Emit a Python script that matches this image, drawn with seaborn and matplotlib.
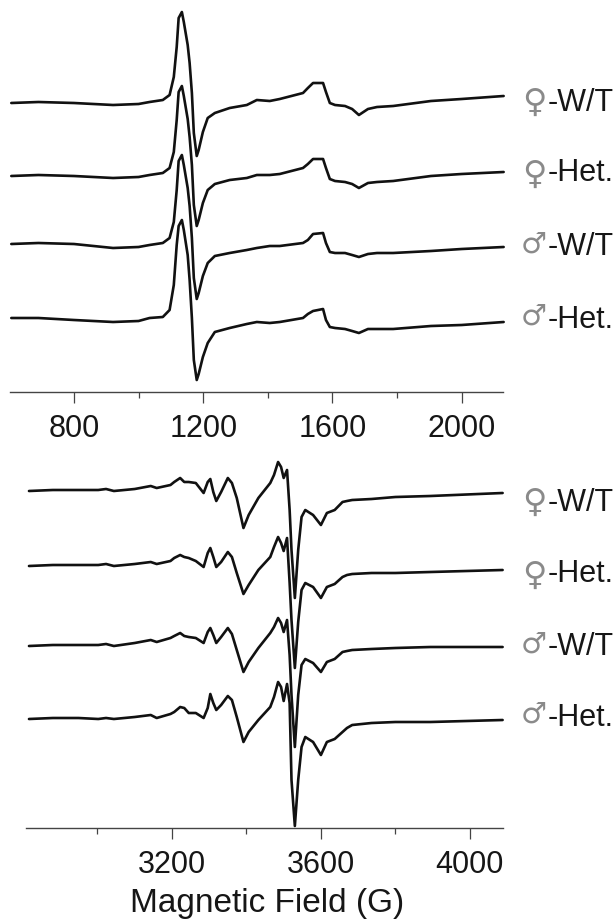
import matplotlib
matplotlib.use("Agg")
import matplotlib.pyplot as plt
from matplotlib.ticker import MultipleLocator
import pandas as pd
import seaborn as sns

field_top = [606,690,800,921,1000,1034,1075,1096,1109,1118,1124,1134,1140,1152,1158,1165,1171,1180,1186,1199,1214,1236,1282,1335,1366,1406,1437,1509,1524,1540,1571,1580,1592,1608,1639,1661,1682,1710,1738,1788,1905,2000,2130]
top_f_wt = [289,290,289,287,288,290,292,297,315,345,374,380,370,347,329,299,259,236,242,260,274,279,284,287,292,291,293,299,304,309,309,300,289,287,286,283,277,283,285,286,291,293,296]
top_f_het = [216,217,216,214,215,217,219,224,240,272,300,306,296,273,255,227,187,166,172,189,202,208,212,214,217,217,218,224,228,233,233,224,213,211,210,208,204,209,210,211,216,218,220]
top_m_wt = [148,149,148,144,145,147,149,154,170,202,231,237,227,204,186,154,114,93,99,116,129,136,139,142,144,146,146,149,152,158,159,149,140,139,139,137,135,138,139,139,141,143,145]
top_m_het = [74,74,72,70,71,74,75,82,107,147,166,172,162,137,112,74,32,12,18,35,49,60,64,68,70,69,70,74,78,81,83,72,65,64,63,61,59,63,63,63,66,67,70]

field_bot = [2816,2880,2949,3002,3023,3044,3100,3143,3159,3196,3206,3222,3233,3245,3264,3285,3296,3303,3311,3319,3332,3350,3361,3374,3392,3406,3432,3464,3474,3485,3493,3500,3509,3516,3521,3530,3539,3548,3558,3579,3600,3616,3637,3658,3670,3684,3736,3800,3894,4088]
bot_f_wt = [337,338,338,338,339,337,339,342,340,343,346,350,346,346,345,335,346,349,336,327,336,350,345,330,300,313,330,345,353,366,361,350,358,318,278,230,278,311,318,313,303,315,318,326,327,328,329,331,332,335]
bot_f_het = [262,263,263,263,264,262,264,266,264,267,270,273,271,270,267,261,275,280,271,261,266,276,271,255,234,243,258,271,281,291,285,277,290,245,208,160,206,238,245,241,230,241,244,251,253,254,255,255,256,258]
bot_m_wt = [182,183,183,183,184,182,185,188,186,190,192,195,192,191,190,185,196,200,193,185,191,200,194,178,156,166,180,195,201,210,205,196,208,173,133,81,133,163,169,165,156,166,169,176,177,178,179,180,181,181]
bot_m_het = [109,110,110,109,110,109,111,113,110,114,116,121,120,115,115,110,120,134,125,118,123,132,128,111,86,96,108,121,131,146,141,127,144,125,48,2,48,81,91,86,73,86,89,96,100,103,105,106,106,108]

symbols = ["\u2640", "\u2640", "\u2642", "\u2642"]
groups = ["-W/T", "-Het.", "-W/T", "-Het."]
xlabel = "Magnetic Field (G)"

W, H = 614, 921
sns.set_theme(style="ticks")
plt.rcParams["font.family"] = ["Liberation Sans", "DejaVu Sans"]
fig = plt.figure(figsize=(W / 100, H / 100), dpi=100, facecolor="white")


def box(l, t, r, b):
    return [l / W, 1 - b / H, (r - l) / W, (b - t) / H]


def panel(rect, field, series, xlim, ylim):
    ax = fig.add_axes(rect)
    ax.patch.set_alpha(0)
    for vals in series:
        df = pd.DataFrame({"field": field, "signal": vals})
        sns.lineplot(data=df, x="field", y="signal", ax=ax, color="#111111", lw=1.9,
                     estimator=None, sort=False, clip_on=False)
    for line in ax.get_lines():
        line.set_solid_joinstyle("round")
    ax.set_xlim(*xlim)
    ax.set_ylim(*ylim)
    ax.set_xlabel("")
    ax.set_ylabel("")
    ax.yaxis.set_visible(False)
    for s in ("top", "left", "right"):
        ax.spines[s].set_visible(False)
    ax.spines["bottom"].set_color("#444444")
    ax.spines["bottom"].set_linewidth(1.0)
    ax.xaxis.set_major_locator(MultipleLocator(400))
    ax.xaxis.set_minor_locator(MultipleLocator(200))
    ax.tick_params(axis="x", which="major", length=8, width=0.9, color="#444444",
                   labelsize=22, pad=7.5, labelcolor="#161616")
    ax.tick_params(axis="x", which="minor", length=4, width=0.9, color="#444444")
    return ax


panel(box(10, 0, 503, 392), field_top, [top_f_wt, top_f_het, top_m_wt, top_m_het], (602, 2128), (0, 392))
ax2 = panel(box(26, 440, 503, 828), field_bot, [bot_f_wt, bot_f_het, bot_m_wt, bot_m_het], (2808, 4089), (0, 388))
ax2.set_xlabel(xlabel, fontsize=24, color="#161616", labelpad=6)
ax2.xaxis.label.set_x(0.5 + 3 / 477)

label_y = [103, 173, 247, 320, 503, 574, 647, 718]
sym_y = [102, 174, 245, 317, 502, 575, 645, 715]
sym_size = [24, 24, 21, 21]
for k, y in enumerate(label_y):
    i = k % 4
    fig.text(534 / W, 1 - sym_y[k] / H, symbols[i], ha="center", va="center", fontsize=sym_size[i],
             color="#8a8a8a", family=["DejaVu Sans"])
    fig.text(548 / W, 1 - y / H, groups[i], ha="left", va="center", fontsize=22, color="#161616")

fig.savefig("out.png", dpi=100)
